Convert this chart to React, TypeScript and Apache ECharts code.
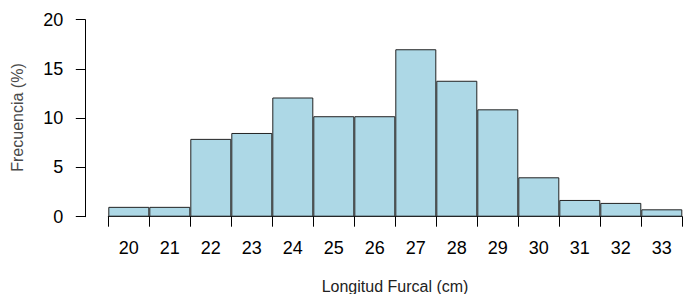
import React, { useEffect, useRef } from "react";
import * as echarts from "echarts";

const categories = ["20", "21", "22", "23", "24", "25", "26", "27", "28", "29", "30", "31", "32", "33"];
const frequencies = [1.0, 1.0, 7.9, 8.5, 12.1, 10.2, 10.2, 17.0, 13.8, 10.9, 4.0, 1.7, 1.4, 0.75];
const yMin = 0;
const yMax = 20;
const yInterval = 5;
const xTitle = "Longitud Furcal (cm)";
const yTitle = "Frecuencia (%)";

export default function App() {
  const ref = useRef<HTMLDivElement>(null);
  useEffect(() => {
    if (!ref.current) return;
    const chart = echarts.init(ref.current, undefined, { renderer: "svg" });
    const font = "'Liberation Sans', Arial, sans-serif";
    chart.setOption({
      animation: false,
      backgroundColor: "#ffffff",
      grid: { left: 108.3, right: 1.7, top: 19.7, bottom: 77.3, containLabel: false },
      xAxis: {
        type: "category",
        data: categories,
        boundaryGap: true,
        axisLine: { show: true, lineStyle: { color: "#000", width: 1 } },
        axisTick: { show: true, interval: 0, length: 10, lineStyle: { color: "#000", width: 1 } },
        axisLabel: { interval: 0, margin: 22, fontSize: 18, color: "#000", fontFamily: font },
        splitLine: { show: false },
      },
      yAxis: {
        type: "value",
        min: yMin,
        max: yMax,
        interval: yInterval,
        offset: 23,
        axisLine: { show: true, lineStyle: { color: "#000", width: 1 } },
        axisTick: { show: true, length: 9.5, lineStyle: { color: "#000", width: 1 } },
        axisLabel: { margin: 22, fontSize: 18, color: "#000", fontFamily: font },
        splitLine: { show: false },
      },
      series: [
        {
          type: "bar",
          data: frequencies,
          barCategoryGap: "0%",
          itemStyle: { color: "#ADD8E6", borderColor: "#222", borderWidth: 1 },
        },
      ],
      graphic: [
        {
          type: "text",
          x: 17.5,
          y: 117.5,
          rotation: Math.PI / 2,
          style: {
            text: yTitle,
            fontSize: 16,
            fontFamily: font,
            fill: "#4a4a4a",
            align: "center",
            verticalAlign: "middle",
          },
        },
        {
          type: "text",
          x: 395,
          y: 278,
          style: {
            text: xTitle,
            fontSize: 16,
            fontFamily: font,
            fill: "#222",
            align: "center",
            verticalAlign: "top",
          },
        },
      ],
    });
    return () => chart.dispose();
  }, []);
  return <div ref={ref} style={{ position: "absolute", left: 0, top: 0, width: 684, height: 294 }} />;
}
